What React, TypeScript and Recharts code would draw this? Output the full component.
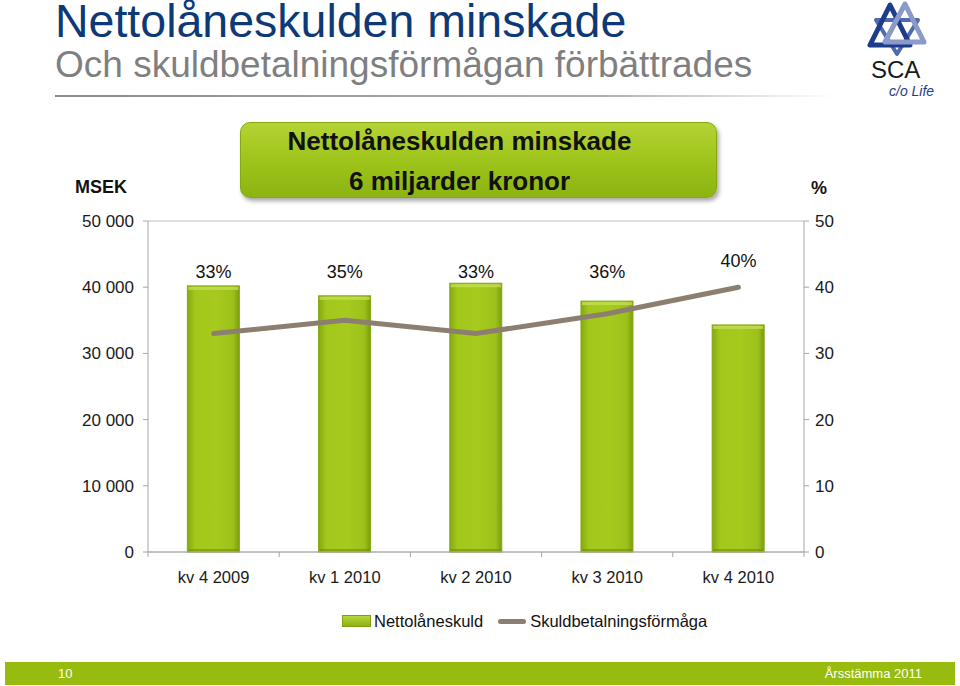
import React from 'react';
import { ComposedChart, Bar, Line, XAxis, YAxis, CartesianGrid, Legend, LabelList } from 'recharts';

const quarters = ['kv 4 2009', 'kv 1 2010', 'kv 2 2010', 'kv 3 2010', 'kv 4 2010'];
const netDebt = [40200, 38700, 40600, 37900, 34300];
const payingCapacity = [33, 35, 33, 36, 40];
const leftTicks = [0, 10000, 20000, 30000, 40000, 50000];
const rightTicks = [0, 10, 20, 30, 40, 50];

const data = quarters.map((q, i) => ({ name: q, Nettolåneskuld: netDebt[i], Skuldbetalningsförmåga: payingCapacity[i] }));

const W = 960;
const H = 686;
const PLOT_TOP = 221;
const PLOT_BOTTOM = 552;
const PLOT_LEFT = 148;
const PLOT_RIGHT = 804;
const BAND = (PLOT_RIGHT - PLOT_LEFT) / quarters.length;
const FONT = '"Liberation Sans", Arial, sans-serif';

const fmtThousands = (v: number) => v === 0 ? '0' : String(v).replace(/\B(?=(\d{3})+(?!\d))/g, ' ');
const yForPct = (p: number) => PLOT_BOTTOM - (p / 50) * (PLOT_BOTTOM - PLOT_TOP);

const XTick = (props: any) => {
    const { x, y, payload, index } = props;
    const axisY = y - 19;
    return (
        <g>
            <line x1={x - BAND / 2} x2={x - BAND / 2} y1={axisY} y2={axisY + 5} stroke="#A6A6A6" />
            {index === quarters.length - 1 && <line x1={x + BAND / 2} x2={x + BAND / 2} y1={axisY} y2={axisY + 5} stroke="#A6A6A6" />}
            <text x={x} y={y} dy="0.71em" textAnchor="middle" fontSize={16.5} fill="#1a1a1a" fontFamily={FONT}>{payload.value}</text>
        </g>
    );
};

const PctLabel = (props: any) => {
    const { x, y, value } = props;
    const cy = Math.min(yForPct(42.3), y - 27);
    return (
        <text x={x} y={cy} dy="0.35em" textAnchor="middle" fontSize={18} fill="#111" fontFamily={FONT}>{`${value}%`}</text>
    );
};

// bar with a light bevel on top, like the office-style bars
const BevelBar = (props: any) => {
    const { x, y, width, height } = props;
    if (!height || height <= 0) return null;
    return (
        <g>
            <rect x={x} y={y} width={width} height={height} fill="url(#barFill)" stroke="#86A812" strokeWidth={1} />
            <rect x={x + 1} y={y + 1} width={width - 2} height={3} fill="#C4DF55" opacity={0.8} />
            <rect x={x + 1} y={y + height - 3} width={width - 2} height={2} fill="#6F8C0C" opacity={0.6} />
        </g>
    );
};

const LegendBox = () => (
    <div style={{ display: 'flex', alignItems: 'center', fontFamily: FONT, fontSize: 16.5, color: '#111', paddingLeft: 342, height: 24 }}>
        <span style={{ display: 'inline-block', width: 27, height: 10, background: 'linear-gradient(#B8D63A, #8DB214)', border: '1px solid #7F9F10', marginRight: 3 }} />
        <span style={{ marginRight: 15 }}>Nettolåneskuld</span>
        <span style={{ display: 'inline-block', width: 28, height: 5, borderRadius: 3, background: '#8C7F70', marginRight: 4 }} />
        <span>Skuldbetalningsförmåga</span>
    </div>
);

const Logo = () => (
    <svg width={90} height={100} style={{ position: 'absolute', left: 860, top: 0 }}>
        <polygon points="16,20 58,20 37,54" fill="none" stroke="#4F6BB0" strokeWidth={4} strokeLinejoin="round" />
        <polygon points="30,5 10,45 50,45" fill="none" stroke="#1E3C8C" strokeWidth={5} strokeLinejoin="round" />
        <polygon points="45,4 25,42 64,42" fill="none" stroke="#8B9AC8" strokeWidth={5} strokeLinejoin="round" />
        <text x={11} y={78} fontSize={24} fontFamily={FONT} fill="#1a1a1a">SCA</text>
        <text x={29} y={96} fontSize={14} fontStyle="italic" fontFamily={FONT} fill="#1E3C8C">c/o Life</text>
    </svg>
);

export default function App() {
    return (
        <div style={{ position: 'absolute', left: 0, top: 0, width: W, height: H, background: '#fff', overflow: 'hidden', fontFamily: FONT }}>
            <div style={{ position: 'absolute', left: 55, top: 0, fontSize: 46.5, lineHeight: '42px', color: '#0D3A76', whiteSpace: 'nowrap' }}>Nettolåneskulden minskade</div>
            <div style={{ position: 'absolute', left: 55, top: 46, fontSize: 37, lineHeight: '37px', color: '#7F7F7F', whiteSpace: 'nowrap' }}>Och skuldbetalningsförmågan förbättrades</div>
            <div style={{ position: 'absolute', left: 55, top: 95, width: 780, height: 2, background: 'linear-gradient(to right, #8C8C8C, #B0B0B0 70%, rgba(255,255,255,0))' }} />
            <Logo />

            <ComposedChart
                width={W}
                height={H}
                data={data}
                margin={{ top: PLOT_TOP, right: 0, left: 0, bottom: H - PLOT_BOTTOM - 40 - 24 }}
                barCategoryGap="30%"
                style={{ position: 'absolute', left: 0, top: 0 }}
            >
                <defs>
                    <linearGradient id="barFill" x1="0" y1="0" x2="1" y2="0">
                        <stop offset="0%" stopColor="#86A811" />
                        <stop offset="15%" stopColor="#A3C81C" />
                        <stop offset="55%" stopColor="#A6CA1E" />
                        <stop offset="88%" stopColor="#9CC11A" />
                        <stop offset="100%" stopColor="#7C9C0F" />
                    </linearGradient>
                </defs>
                <CartesianGrid vertical={false} stroke="#BFBFBF" />
                <XAxis dataKey="name" height={40} axisLine={{ stroke: '#A6A6A6' }} tickLine={false} tickSize={5} tickMargin={14} tick={<XTick />} interval={0} />
                <YAxis
                    yAxisId="left"
                    width={PLOT_LEFT}
                    domain={[0, 50000]}
                    ticks={leftTicks}
                    tickFormatter={fmtThousands}
                    axisLine={{ stroke: '#A6A6A6' }}
                    tickLine={{ stroke: '#A6A6A6' }}
                    tickSize={5}
                    tickMargin={9}
                    tick={{ fontSize: 17, fill: '#1a1a1a', fontFamily: FONT }}
                />
                <YAxis
                    yAxisId="right"
                    orientation="right"
                    width={W - PLOT_RIGHT}
                    domain={[0, 50]}
                    ticks={rightTicks}
                    axisLine={{ stroke: '#A6A6A6' }}
                    tickLine={{ stroke: '#A6A6A6' }}
                    tickSize={5}
                    tickMargin={6}
                    tick={{ fontSize: 17, fill: '#1a1a1a', fontFamily: FONT, textAnchor: 'start' }}
                />
                <Bar yAxisId="left" dataKey="Nettolåneskuld" fill="url(#barFill)" shape={<BevelBar />} isAnimationActive={false} />
                <Line yAxisId="right" dataKey="Skuldbetalningsförmåga" stroke="#8C7F70" strokeWidth={5} strokeLinecap="round" dot={false} activeDot={false} isAnimationActive={false}>
                    <LabelList dataKey="Skuldbetalningsförmåga" content={<PctLabel />} />
                </Line>
                <Legend content={<LegendBox />} wrapperStyle={{ top: 609, left: 0, width: W, height: 24 }} />
            </ComposedChart>

            <div style={{ position: 'absolute', left: 75, top: 177, fontSize: 18, fontWeight: 'bold', color: '#111' }}>MSEK</div>
            <div style={{ position: 'absolute', left: 811, top: 178, fontSize: 18, fontWeight: 'bold', color: '#111' }}>%</div>

            <div style={{
                position: 'absolute', left: 240, top: 122, width: 477, height: 76, borderRadius: 10,
                background: 'linear-gradient(#B4D333, #9CC31A 55%, #8DB312)', border: '1px solid #86A912',
                boxShadow: '2px 3px 4px rgba(0,0,0,0.35)', boxSizing: 'border-box'
            }}>
                <div style={{ position: 'absolute', left: 0, width: 437, top: 3, textAlign: 'center', fontSize: 26, fontWeight: 'bold', color: '#111', lineHeight: '30px' }}>Nettolåneskulden minskade</div>
                <div style={{ position: 'absolute', left: 0, width: 437, top: 43, textAlign: 'center', fontSize: 26, fontWeight: 'bold', color: '#111', lineHeight: '30px' }}>6 miljarder kronor</div>
            </div>

            <div style={{ position: 'absolute', left: 5, top: 662, width: 950, height: 23, background: '#97BB0E' }}>
                <div style={{ position: 'absolute', left: 53, top: 4, fontSize: 13, color: '#fff' }}>10</div>
                <div style={{ position: 'absolute', right: 33, top: 4, fontSize: 13, color: '#fff' }}>Årsstämma 2011</div>
            </div>
        </div>
    );
}
